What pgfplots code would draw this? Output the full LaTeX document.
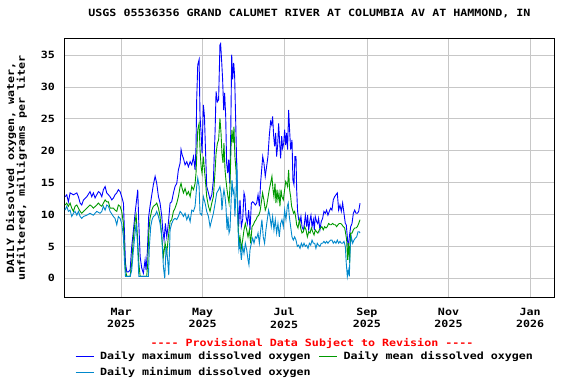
\documentclass[border=0pt]{standalone}
\usepackage{fontspec}
\newfontfamily\mf[FakeStretch=1.17]{DejaVu Sans Mono}
\usepackage{pgfplots}
\pgfplotsset{compat=1.18}
\definecolor{cmax}{RGB}{0,0,255}
\definecolor{cmean}{RGB}{0,153,0}
\definecolor{cmin}{RGB}{0,136,204}
\newcommand{\lf}{\mf\bfseries\fontsize{10}{12.5}\selectfont}
\begin{document}
\begin{tikzpicture}
\begin{axis}[
 scale only axis, width=490bp, height=258bp,
 xmin=16.7, xmax=383.3, ymin=-2.93, ymax=37.54,
 xtick={59,120,181,243,304,365},
 xticklabels={Mar\\2025, May\\2025, Jul\\2025, Sep\\2025, Nov\\2025, Jan\\2026},
 ytick={0,5,10,15,20,25,30,35},
 grid=major, major grid style={color=black!22, line width=0.9bp},
 major tick length=0pt,
 axis line style={line width=1bp},
 /pgf/number format/assume math mode=true,
 tick label style={font=\lf},
 xticklabel style={align=center, yshift=-7.5bp},
 yticklabel style={xshift=-6bp},
 title={USGS 05536356 GRAND CALUMET RIVER AT COLUMBIA AV AT HAMMOND, IN},
 title style={font=\lf, at={(axis description cs:0.5,1)}, anchor=center, yshift=20bp},
 ylabel={DAILY Dissolved oxygen, water,\\unfiltered, milligrams per liter},
 ylabel style={align=center, font=\mf\bfseries\fontsize{10}{11}\selectfont, at={(axis description cs:-0.098,0.5)}, anchor=center},
 legend columns=2,
 legend cell align=left,
 legend style={at={(axis description cs:0.0215,-0.2016)}, anchor=north west, draw=none, fill=none, inner sep=0pt, font=\lf, row sep=3bp, /tikz/every odd column/.append style={column sep=4bp}, /tikz/every even column/.append style={column sep=6bp}},
 legend image code/.code={\draw[#1] (0bp,0bp) -- (18bp,0bp);},
 every axis plot/.append style={line width=0.9bp},
]
\coordinate (SW) at (rel axis cs:0,0);
\coordinate (NE) at (rel axis cs:1,1);
\addplot[cmax] coordinates {(17.1,12.8)(18.4,13.1)(19.6,12.0)(20.9,13.4)(23.4,13.1)(25.9,13.4)(27.1,12.8)(28.4,11.8)(29.6,11.5)(30.9,12.3)(33.4,12.8)(35.8,13.6)(37.1,12.8)(38.3,13.4)(39.6,12.6)(40.8,13.1)(42.1,13.6)(43.3,13.4)(44.6,12.8)(45.8,13.9)(47.1,14.4)(48.3,13.4)(49.6,13.1)(50.8,12.8)(52.1,12.3)(53.3,12.6)(54.5,13.1)(55.8,13.4)(57.0,13.9)(58.3,13.6)(59.5,12.8)(60.8,11.8)(61.5,7.6)(62.3,2.4)(63.3,1.0)(64.5,1.0)(65.8,1.3)(67.0,5.0)(68.3,7.6)(69.5,10.2)(70.8,12.6)(71.5,13.9)(72.3,8.6)(73.3,3.4)(74.5,1.6)(75.7,0.8)(77.0,2.9)(77.7,1.3)(78.7,4.2)(79.7,9.7)(80.7,11.3)(82.0,13.1)(83.2,14.7)(84.5,16.0)(85.7,14.9)(87.0,12.8)(88.2,11.8)(89.5,9.7)(90.2,7.6)(91.2,6.0)(92.2,8.6)(93.2,6.5)(94.4,8.6)(95.7,11.8)(96.9,12.0)(98.2,13.4)(99.4,14.4)(100.7,14.9)(101.9,17.0)(103.2,18.1)(103.9,20.2)(104.7,19.4)(105.7,18.8)(106.9,17.8)(108.2,18.3)(109.4,17.5)(110.7,18.3)(111.9,17.8)(113.2,19.1)(114.4,17.0)(115.1,20.7)(115.6,28.0)(116.4,33.5)(117.4,34.3)(118.1,25.4)(118.9,22.8)(119.6,19.6)(120.6,27.2)(121.4,25.4)(122.1,20.7)(123.1,14.4)(124.4,13.4)(125.6,12.3)(126.9,13.1)(128.1,15.4)(129.4,23.3)(130.1,29.3)(131.1,27.7)(132.0,28.0)(133.0,36.6)(133.5,36.8)(134.3,34.0)(135.0,31.2)(135.8,26.4)(136.5,29.1)(137.3,25.4)(138.0,18.1)(138.8,16.5)(139.5,18.6)(140.3,14.9)(141.0,21.7)(141.8,35.1)(142.5,31.2)(143.3,33.8)(144.0,31.7)(144.7,25.4)(145.5,18.1)(146.2,11.8)(147.0,8.1)(148.0,12.3)(149.0,8.1)(150.0,9.2)(151.0,13.4)(151.7,12.8)(152.5,9.7)(153.5,8.6)(154.5,10.7)(155.5,7.6)(156.5,11.8)(157.5,12.0)(158.5,11.8)(159.5,11.5)(160.5,11.8)(161.5,13.1)(162.5,11.3)(163.5,15.2)(164.2,17.0)(165.0,19.1)(165.9,18.1)(166.9,16.0)(167.9,17.5)(168.9,19.1)(169.9,22.3)(170.9,24.6)(171.7,24.1)(172.4,25.4)(173.2,22.3)(173.9,20.7)(174.7,22.8)(175.4,19.1)(176.2,20.9)(176.9,24.3)(177.7,21.2)(178.4,18.8)(179.2,22.3)(179.9,20.4)(180.7,21.2)(181.4,23.3)(182.2,20.9)(182.9,22.8)(183.6,20.2)(184.4,26.4)(185.1,23.3)(185.9,20.2)(186.9,21.7)(187.6,15.4)(188.4,14.7)(189.1,19.1)(189.9,19.1)(190.4,13.9)(191.1,10.5)(191.9,9.2)(192.9,8.9)(193.6,9.7)(194.4,8.1)(195.4,7.6)(196.1,8.4)(196.9,9.9)(197.9,8.1)(198.6,9.9)(199.4,7.6)(200.4,9.2)(201.1,9.9)(201.9,8.1)(202.9,9.2)(203.6,7.6)(204.3,9.7)(205.3,8.9)(206.1,8.6)(206.8,9.4)(207.8,7.6)(208.8,8.9)(209.8,9.4)(210.8,10.5)(211.8,10.2)(212.8,10.7)(213.8,9.9)(214.8,10.5)(215.8,11.0)(216.8,10.7)(217.8,12.3)(218.8,12.8)(219.8,13.1)(220.8,13.4)(221.8,10.7)(222.8,11.5)(223.8,10.5)(224.8,11.8)(225.8,10.2)(226.8,8.6)(227.5,8.4)(228.3,6.5)(229.0,4.5)(229.8,6.5)(230.8,8.1)(231.8,8.6)(232.8,10.2)(233.8,10.7)(234.8,10.2)(235.8,10.2)(236.8,10.5)(237.8,11.8)};
\addlegendentry{Daily maximum dissolved oxygen}
\addplot[cmean] coordinates {(17.1,11.5)(18.4,11.8)(19.6,11.3)(20.9,11.8)(22.1,11.0)(23.4,10.5)(24.6,11.3)(25.9,11.5)(27.1,11.0)(28.4,10.5)(29.6,10.2)(30.9,10.5)(33.4,11.0)(35.8,11.5)(37.1,11.3)(38.3,11.0)(40.8,11.5)(42.1,11.8)(43.3,11.5)(44.6,11.3)(45.8,11.8)(47.1,12.3)(48.3,12.0)(49.6,12.0)(50.8,11.0)(53.3,11.0)(54.5,10.7)(55.8,10.5)(57.0,11.5)(58.3,11.3)(59.5,10.5)(60.8,8.6)(61.5,4.5)(62.3,1.3)(63.3,0.3)(64.5,0.3)(65.8,0.3)(67.0,2.4)(68.3,6.5)(69.5,8.9)(70.3,9.9)(71.3,6.5)(72.3,2.4)(73.3,0.3)(75.7,0.3)(78.2,0.3)(79.0,2.4)(79.7,7.1)(80.7,9.4)(82.0,10.7)(83.2,11.3)(84.5,11.5)(85.7,11.8)(87.0,11.0)(88.2,9.7)(89.5,6.5)(90.7,3.4)(92.0,5.5)(93.2,3.9)(94.4,6.5)(95.7,8.9)(96.9,9.2)(98.2,10.5)(99.4,11.0)(100.7,11.8)(101.9,12.8)(103.2,14.4)(103.9,14.9)(104.7,14.1)(105.7,13.4)(106.9,14.1)(108.2,13.1)(109.4,13.6)(110.7,12.8)(111.9,14.4)(113.2,13.9)(114.4,14.9)(115.1,16.5)(115.6,19.1)(116.4,23.3)(117.4,24.3)(118.1,20.2)(118.9,17.5)(119.6,16.5)(120.6,19.1)(121.4,17.0)(122.1,15.4)(123.1,12.8)(124.4,11.3)(125.6,10.5)(126.9,11.8)(128.1,12.8)(129.4,17.0)(130.1,19.6)(131.1,21.2)(132.0,21.7)(133.0,25.1)(133.8,22.8)(134.5,19.6)(135.3,18.1)(136.0,21.2)(136.8,17.0)(137.5,15.4)(138.3,13.9)(139.0,12.8)(139.8,11.8)(140.5,14.4)(141.3,20.7)(142.0,23.3)(142.8,21.2)(143.5,23.8)(144.2,19.1)(145.0,17.0)(145.7,13.9)(146.5,9.2)(147.2,5.0)(148.0,6.5)(149.0,4.7)(150.0,6.0)(151.0,7.6)(152.0,8.6)(153.0,7.6)(154.0,6.5)(155.0,7.6)(156.0,5.5)(157.0,8.1)(158.0,8.4)(159.0,8.9)(160.0,9.2)(161.0,9.7)(162.0,9.9)(163.0,10.5)(163.9,11.8)(164.9,13.4)(165.9,12.3)(166.9,10.7)(167.9,11.3)(168.9,12.6)(169.9,13.9)(170.9,14.9)(171.9,16.0)(172.7,13.9)(173.4,12.8)(174.2,14.9)(174.9,11.8)(175.7,13.9)(176.4,12.3)(177.2,13.4)(177.9,11.3)(178.7,13.9)(179.4,12.8)(180.4,12.3)(181.4,13.9)(182.2,15.2)(182.9,14.9)(183.6,14.4)(184.4,17.0)(185.1,13.9)(185.9,12.8)(186.6,11.3)(187.4,10.7)(188.1,10.2)(188.9,10.5)(189.6,9.7)(190.4,8.4)(191.4,7.9)(192.4,9.2)(193.4,7.9)(194.4,7.1)(195.4,7.3)(196.4,8.1)(197.4,7.6)(198.4,6.5)(199.4,7.3)(200.4,7.1)(201.4,7.9)(202.4,7.3)(203.4,6.8)(204.3,7.6)(205.3,7.3)(206.3,7.1)(207.3,7.6)(208.3,7.9)(209.3,8.1)(210.3,7.6)(211.3,8.1)(212.3,7.9)(213.3,8.1)(214.3,8.6)(215.3,8.4)(216.3,8.4)(217.3,8.6)(218.3,8.4)(219.3,8.4)(220.3,8.1)(221.3,8.4)(222.3,8.6)(223.3,8.6)(224.3,8.4)(225.3,8.1)(226.3,7.9)(227.0,7.1)(227.8,6.0)(228.5,2.9)(229.3,5.5)(230.0,2.4)(230.8,7.1)(231.8,7.1)(232.8,7.6)(233.8,7.9)(234.8,7.9)(235.8,8.1)(236.8,8.6)(237.8,9.2)};
\addlegendentry{Daily mean dissolved oxygen}
\addplot[cmin] coordinates {(17.1,10.7)(18.4,11.3)(19.6,10.5)(20.9,10.7)(22.1,9.7)(23.4,10.2)(24.6,10.5)(25.9,9.9)(27.1,10.5)(28.4,9.7)(29.6,9.4)(30.9,9.7)(33.4,9.9)(35.8,10.2)(38.3,9.9)(40.8,10.5)(43.3,10.2)(44.6,10.5)(45.8,11.3)(47.1,10.7)(48.3,11.5)(49.6,11.3)(50.8,10.5)(53.3,9.7)(54.5,9.4)(55.8,8.4)(57.0,9.7)(58.3,9.4)(59.5,8.6)(60.8,6.5)(61.5,2.9)(62.3,0.3)(65.8,0.3)(67.0,1.3)(68.3,4.5)(69.5,7.1)(70.3,8.6)(71.3,5.5)(72.3,0.3)(79.5,0.3)(80.2,5.0)(81.2,8.1)(82.2,9.2)(83.2,9.7)(84.5,9.9)(85.7,10.5)(87.0,9.7)(88.2,8.6)(89.5,6.5)(90.7,1.8)(91.7,0.0)(92.7,5.0)(93.7,3.4)(94.7,0.5)(95.7,7.6)(96.9,8.6)(98.2,9.2)(99.4,9.4)(100.7,9.2)(101.9,9.7)(103.2,10.5)(104.4,10.2)(105.7,9.7)(106.9,10.2)(108.2,9.2)(109.4,9.9)(110.7,8.9)(111.9,10.7)(113.2,10.5)(114.4,11.3)(115.6,14.4)(116.4,15.7)(117.4,14.4)(118.1,10.2)(119.4,9.9)(120.6,12.8)(121.9,11.8)(123.1,10.5)(124.4,9.7)(125.6,8.1)(126.9,9.2)(128.1,10.2)(129.4,11.8)(130.6,13.4)(132.0,13.9)(133.0,14.4)(133.8,13.4)(134.5,10.7)(135.3,12.8)(136.0,13.9)(136.8,12.8)(137.5,11.3)(138.3,7.6)(139.0,9.7)(139.8,7.1)(140.5,7.6)(141.3,11.8)(142.0,15.4)(142.8,13.4)(143.5,13.9)(144.2,9.7)(145.0,13.4)(145.7,18.1)(146.5,8.1)(147.2,4.5)(148.0,5.5)(149.0,2.9)(150.0,5.0)(151.0,3.9)(152.0,5.5)(153.0,4.5)(154.0,2.9)(154.7,2.1)(155.5,4.5)(156.5,5.5)(157.5,6.3)(158.5,5.5)(159.5,6.5)(160.5,6.3)(161.5,7.1)(162.5,5.5)(163.5,7.6)(164.4,9.2)(165.4,6.5)(166.4,5.5)(167.4,7.6)(168.4,9.2)(169.4,10.7)(170.4,9.7)(171.4,8.1)(172.4,9.7)(173.4,7.6)(174.4,9.2)(175.4,7.1)(176.4,8.6)(177.4,6.5)(178.4,8.6)(179.4,9.2)(180.4,8.1)(181.4,10.7)(182.4,9.2)(183.4,11.3)(184.1,11.8)(184.9,9.7)(185.9,8.1)(186.9,6.5)(187.9,6.0)(188.9,6.5)(189.9,6.0)(190.9,5.0)(191.9,5.2)(192.9,4.7)(193.9,5.5)(194.9,5.0)(195.9,5.5)(196.9,5.0)(197.9,5.2)(198.9,4.7)(199.9,5.5)(200.9,5.2)(201.9,6.0)(202.9,5.5)(203.9,5.5)(204.8,4.7)(205.8,5.5)(206.8,5.2)(207.8,5.0)(208.8,5.5)(209.8,5.5)(210.8,5.8)(211.8,5.5)(212.8,5.8)(213.8,5.5)(214.8,5.8)(215.8,6.0)(216.8,6.0)(217.8,5.5)(218.8,5.8)(219.8,5.5)(220.8,6.0)(221.8,5.5)(222.8,5.8)(223.8,5.5)(224.8,5.5)(225.8,5.8)(226.8,5.0)(227.5,2.4)(228.3,0.3)(229.0,1.3)(229.8,0.3)(230.5,5.0)(231.3,6.5)(232.3,5.5)(233.3,6.0)(234.3,6.3)(235.3,6.5)(236.3,7.3)(237.3,7.3)(237.8,7.1)};
\addlegendentry{Daily minimum dissolved oxygen}
\end{axis}
\node[font=\lf, text=red, inner sep=0pt] at ([xshift=247.5bp,yshift=-46bp]SW) {---- Provisional Data Subject to Revision ----};
\pgfresetboundingbox
\path ([xshift=-64.5bp,yshift=-87bp]SW) rectangle ([xshift=21.5bp,yshift=39bp]NE);
\end{tikzpicture}
\end{document}
